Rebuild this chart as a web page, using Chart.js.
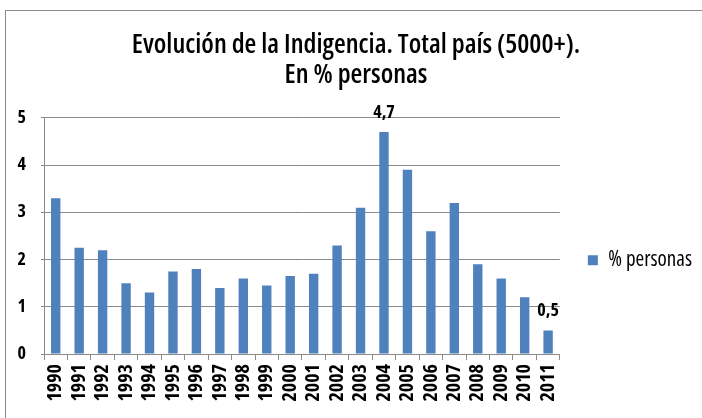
<!DOCTYPE html>
<html lang="es">
<head>
  <meta charset="UTF-8" />
  <title>Evolución de la Indigencia</title>
  <style>
    body { margin: 0; background: #fff; }
    .frame { position: absolute; left: 5px; top: 10px; width: 720px; height: 430px; border: 1px solid #8a8a8a; }
    .wrap { position: absolute; left: 0; top: 0; width: 702px; height: 418px; }
  </style>
</head>
<body>
  <div class="frame"></div>
  <div class="wrap"><canvas id="chart" width="702" height="418"></canvas></div>

  <script src="https://cdn.jsdelivr.net/npm/chart.js"></script>
  <script>
    const years = ["1990", "1991", "1992", "1993", "1994", "1995", "1996", "1997", "1998", "1999", "2000",
                   "2001", "2002", "2003", "2004", "2005", "2006", "2007", "2008", "2009", "2010", "2011"];
    const personas = [3.3, 2.25, 2.2, 1.5, 1.3, 1.75, 1.8, 1.4, 1.6, 1.45, 1.65,
                      1.7, 2.3, 3.1, 4.7, 3.9, 2.6, 3.2, 1.9, 1.6, 1.2, 0.5];
    const labeledYears = ["2004", "2011"];
    const yTicks = [0, 1, 2, 3, 4, 5];

    const fontFamily = "'Open Sans', sans-serif";

    // etiquetas de valor solo en algunos años
    const valueLabels = {
      id: "valueLabels",
      afterDatasetsDraw(chart) {
        const ctx = chart.ctx;
        const meta = chart.getDatasetMeta(0);
        ctx.save();
        ctx.font = "condensed bold 18px " + fontFamily;
        ctx.fillStyle = "#000";
        ctx.textAlign = "center";
        ctx.textBaseline = "alphabetic";
        years.forEach((y, i) => {
          if (!labeledYears.includes(y)) return;
          const bar = meta.data[i];
          ctx.fillText(String(personas[i]).replace(".", ","), bar.x, bar.y - 14);
        });
        ctx.restore();
      }
    };

    new Chart(document.getElementById("chart"), {
      type: "bar",
      data: {
        labels: years,
        datasets: [{
          label: "% personas",
          data: personas,
          backgroundColor: "#4F81BD",
          barPercentage: 0.4,
          categoryPercentage: 1
        }]
      },
      options: {
        responsive: false,
        animation: false,
        layout: { padding: { left: 10, right: 0, top: 0, bottom: 0 } },
        scales: {
          x: {
            afterFit: s => { s.height = 64; },
            grid: { offset: true, drawOnChartArea: false, tickLength: 6, color: "#8a8a8a" },
            border: { color: "#8a8a8a" },
            ticks: {
              maxRotation: 90, minRotation: 90,
              autoSkip: false,
              color: "#000",
              font: { family: fontFamily, size: 20, weight: "condensed bold" },
              padding: 4
            }
          },
          y: {
            min: 0, max: 5,
            afterFit: s => { s.width = 34; },
            afterBuildTicks: axis => { axis.ticks = yTicks.map(v => ({ value: v })); },
            grid: { color: "#8a8a8a", tickLength: 3 },
            border: { color: "#8a8a8a" },
            ticks: {
              color: "#000",
              font: { family: fontFamily, size: 18, weight: "condensed bold" },
              padding: 15
            }
          }
        },
        plugins: {
          title: {
            display: true,
            text: ["Evolución de la Indigencia. Total país (5000+).", "En % personas"],
            color: "#000",
            font: { family: fontFamily, size: 27, weight: "condensed 600", lineHeight: 1.11 },
            padding: { top: 30, bottom: 28 }
          },
          legend: {
            position: "right",
            title: { display: true, text: " ", font: { size: 12 }, padding: { top: 0, bottom: 88 } },
            labels: {
              color: "#000",
              boxWidth: 10, boxHeight: 10,
              padding: 28,
              font: { family: fontFamily, size: 21, weight: "condensed 500" }
            }
          },
          tooltip: { enabled: false }
        }
      },
      plugins: [valueLabels]
    });
  </script>
</body>
</html>
